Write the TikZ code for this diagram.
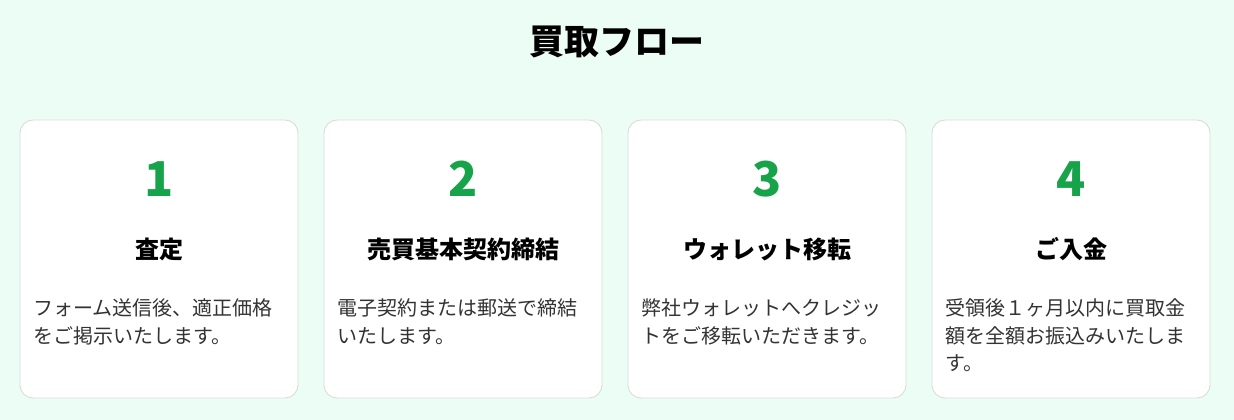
\documentclass[tikz,border=0pt]{standalone}
\usepackage{fontspec}
\newfontfamily\jp{Noto Sans CJK JP}
\definecolor{bgmint}{HTML}{ECFDF5}
\definecolor{cardline}{HTML}{D9DCDC}
\definecolor{stepgreen}{HTML}{16A34A}
\definecolor{bodytxt}{HTML}{333333}
\tikzset{
  card/.style={draw=cardline, line width=0.9pt, fill=white, rounded corners=13pt},
  stepnum/.style={anchor=base, inner sep=0pt, text=stepgreen, font=\jp\bfseries\fontsize{48}{48}\selectfont},
  stephead/.style={anchor=base, inner sep=0pt, text=black, font=\jp\bfseries\fontsize{24}{24}\selectfont},
  steptext/.style={anchor=base west, inner sep=0pt, text=bodytxt, font=\jp\fontsize{20}{20}\selectfont},
  titletext/.style={anchor=base, inner sep=0pt, text=black, font=\jp\bfseries\fontsize{35}{35}\selectfont}
}
\begin{document}
\begin{tikzpicture}[x=1pt,y=-1pt]
\fill[bgmint] (0,0) rectangle (1234,420);
\useasboundingbox (0,0) rectangle (1234,420);
\node[titletext] (title) at (617,55) {買取フロー};
% cards
\foreach \i/\l in {1/20,2/324,3/628,4/932}{
  \draw[card] (\l,120) rectangle ++(278,278);
}
% card 1
\node[stepnum] (n1) at (159,196.5) {1};
\node[stephead] (h1) at (159,258) {査定};
\node[steptext] (b1a) at (33,315.5) {フォーム送信後、適正価格};
\node[steptext] (b1b) at (33,343) {をご掲示いたします。};
% card 2
\node[stepnum] (n2) at (463,196.5) {2};
\node[stephead] (h2) at (463,258) {売買基本契約締結};
\node[steptext] (b2a) at (337,315.5) {電子契約または郵送で締結};
\node[steptext] (b2b) at (337,343) {いたします。};
% card 3
\node[stepnum] (n3) at (767,196.5) {3};
\node[stephead] (h3) at (767,258) {ウォレット移転};
\node[steptext] (b3a) at (641,315.5) {弊社ウォレットへクレジッ};
\node[steptext] (b3b) at (641,343) {トをご移転いただきます。};
% card 4
\node[stepnum] (n4) at (1071,196.5) {4};
\node[stephead] (h4) at (1071,258) {ご入金};
\node[steptext] (b4a) at (945,315.5) {受領後１ヶ月以内に買取金};
\node[steptext] (b4b) at (945,343) {額を全額お振込みいたしま};
\node[steptext] (b4c) at (945,370.5) {す。};
\end{tikzpicture}
\end{document}
